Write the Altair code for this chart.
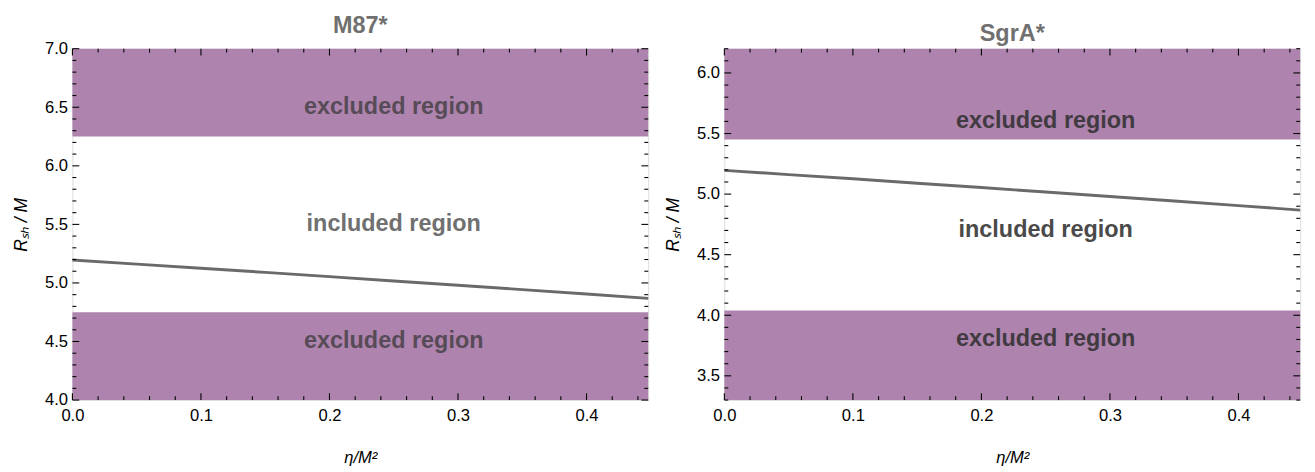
import altair as alt
import pandas as pd

# ---- data ----
ETA = [0.0, 0.05, 0.10, 0.15, 0.20, 0.25, 0.30, 0.35, 0.40, 0.448]
RSH = [5.196, 5.161, 5.126, 5.090, 5.054, 5.017, 4.980, 4.943, 4.905, 4.868]
X_MAX = 0.448

PANEL_TITLES = ["M87*", "SgrA*"]
Y_MIN = [4.0, 3.3]
Y_MAX = [7.0, 6.2]
BAND_LOWER = [4.75, 4.04]   # upper edge of lower excluded band
BAND_UPPER = [6.25, 5.45]   # lower edge of upper excluded band
LABEL_X = 0.25
LABEL_Y_TOP = [6.5, 5.6]
LABEL_Y_MID = [5.5, 4.7]
LABEL_Y_BOT = [4.5, 3.8]
EXCL_COLOR = ["#574b57", "#413a41"]
INCL_COLOR = ["#707070", "#4a4a4a"]
TITLE_OFFSET = [-23, -15]

X_MAJOR = [0.0, 0.1, 0.2, 0.3, 0.4]

W, H = 590, 360
FONT = "Liberation Sans"
BAND_COLOR = "#ae84ae"
LINE_COLOR = "#6a6a6a"
MAJ, MIN = 7, 4   # tick lengths in px (inward)


def minor_ticks(lo, hi, step, majors):
    out = []
    v = lo
    i = 0
    while v <= hi + 1e-9:
        r = round(v, 3)
        if all(abs(r - m) > 1e-6 for m in majors):
            out.append(r)
        i += 1
        v = lo + i * step
    return out


def panel(i):
    ymin, ymax = Y_MIN[i], Y_MAX[i]
    xs = alt.Scale(domain=[0, X_MAX], nice=False, zero=False)
    ys = alt.Scale(domain=[ymin, ymax], nice=False, zero=False)
    y_major = [round(v, 1) for v in [3.5, 4.0, 4.5, 5.0, 5.5, 6.0, 6.5, 7.0] if ymin - 1e-9 <= v <= ymax + 1e-9]
    y_minor = minor_ticks(round(int(ymin * 10) / 10, 1), ymax, 0.1, y_major)
    x_minor = minor_ticks(0.0, X_MAX, 0.02, X_MAJOR)

    common = dict(domain=False, grid=False, tickOpacity=0)
    x_bottom = alt.Axis(
        orient="bottom", values=X_MAJOR, format=".1f", tickSize=7, offset=-7,
        labelPadding=8, labelFont=FONT, labelFontSize=17, labelColor="black",
        labelFlush=False, labelOverlap=False,
        title="η/M²", titleFont=FONT, titleFontSize=17, titleFontWeight="normal",
        titleFontStyle="italic", titleColor="black", titlePadding=27, **common)
    y_left = alt.Axis(
        orient="left", values=y_major, format=".1f", tickSize=7, offset=-7,
        labelPadding=5, labelFont=FONT, labelFontSize=17, labelColor="black",
        labelFlush=False, labelOverlap=False,
        title="Rₛₕ / M", titleFont=FONT, titleFontSize=18, titleFontWeight="normal",
        titleFontStyle="italic", titleColor="black", titlePadding=14, **common)

    bands = pd.DataFrame({
        "x": [0.0, 0.0], "x2": [X_MAX, X_MAX],
        "y": [ymin, BAND_UPPER[i]], "y2": [BAND_LOWER[i], ymax],
    })
    band_layer = alt.Chart(bands).mark_rect(color=BAND_COLOR).encode(
        x=alt.X("x:Q", scale=xs, axis=x_bottom), x2="x2:Q",
        y=alt.Y("y:Q", scale=ys, axis=y_left), y2="y2:Q",
    )

    line_df = pd.DataFrame({"eta": ETA, "r": RSH})
    line_layer = alt.Chart(line_df).mark_line(color=LINE_COLOR, strokeWidth=3).encode(
        x=alt.X("eta:Q", scale=xs, axis=x_bottom),
        y=alt.Y("r:Q", scale=ys, axis=y_left),
    )

    txt_df = pd.DataFrame({
        "x": [LABEL_X] * 3,
        "y": [LABEL_Y_TOP[i], LABEL_Y_MID[i], LABEL_Y_BOT[i]],
        "t": ["excluded region", "included region", "excluded region"],
        "c": [EXCL_COLOR[i], INCL_COLOR[i], EXCL_COLOR[i]],
    })
    txt_layer = alt.Chart(txt_df).mark_text(
        font=FONT, fontSize=24, fontWeight="bold", baseline="middle", align="center"
    ).encode(
        x=alt.X("x:Q", scale=xs, axis=x_bottom),
        y=alt.Y("y:Q", scale=ys, axis=y_left),
        text="t:N",
        color=alt.Color("c:N", scale=None),
    )

    title_df = pd.DataFrame({"t": [PANEL_TITLES[i]]})
    title_layer = alt.Chart(title_df).mark_text(
        font=FONT, fontSize=24, fontWeight="bold", color="#707070", baseline="middle"
    ).encode(x=alt.value(W / 2), y=alt.value(TITLE_OFFSET[i]), text="t:N")
    ghost_layer = alt.Chart(title_df).mark_text(
        font=FONT, fontSize=24, fontWeight="bold", opacity=0, baseline="middle"
    ).encode(x=alt.value(W / 2), y=alt.value(min(TITLE_OFFSET)), text="t:N")

    # inward frame ticks, placed through the scales at the tick values
    def xticks(vals, length):
        d = pd.DataFrame({"v": vals})
        base = alt.Chart(d).mark_rule(color="black", strokeWidth=1.1)
        top = base.encode(x=alt.X("v:Q", scale=xs, axis=x_bottom),
                          y=alt.value(0), y2=alt.value(length))
        bot = base.encode(x=alt.X("v:Q", scale=xs, axis=x_bottom),
                          y=alt.value(H), y2=alt.value(H - length))
        return [top, bot]

    def yticks(vals, length):
        d = pd.DataFrame({"v": vals})
        base = alt.Chart(d).mark_rule(color="black", strokeWidth=1.1)
        left = base.encode(y=alt.Y("v:Q", scale=ys, axis=y_left),
                           x=alt.value(0), x2=alt.value(length))
        right = base.encode(y=alt.Y("v:Q", scale=ys, axis=y_left),
                            x=alt.value(W), x2=alt.value(W - length))
        return [left, right]

    tick_layers = (xticks(X_MAJOR, MAJ) + xticks(x_minor, MIN)
                   + yticks(y_major, MAJ) + yticks(y_minor, MIN))

    layers = [band_layer, line_layer, txt_layer, title_layer, ghost_layer] + tick_layers
    return alt.layer(*layers).properties(width=W, height=H)


chart = (
    alt.hconcat(panel(0), panel(1), spacing=9)
    .properties(padding={"left": 4, "top": 0, "right": 0, "bottom": 0})
    .configure_view(stroke="black", strokeWidth=1.2)
    .configure_axis(grid=False)
    .configure(background="white")
)

chart.save("out.html", embed_options={"renderer": "svg", "actions": False})
